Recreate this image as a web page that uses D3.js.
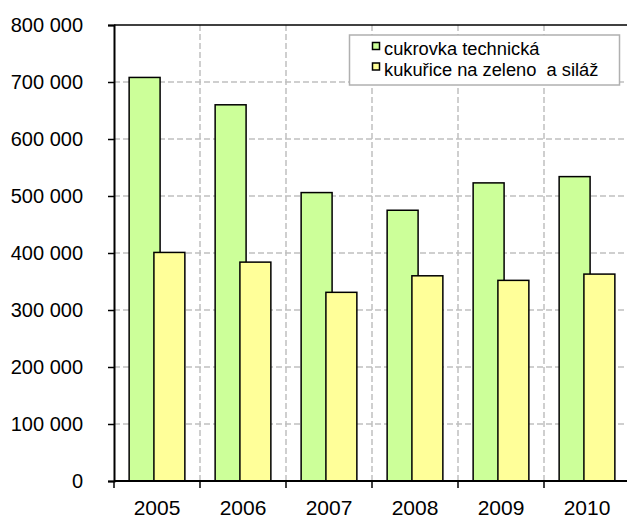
<!DOCTYPE html>
<html>
<head>
<meta charset="utf-8">
<script src="https://cdn.jsdelivr.net/npm/d3@7"></script>
<style>
  html, body { margin: 0; padding: 0; background: #fff; }
  svg { display: block; font-family: "Liberation Sans", Arial, sans-serif; }
</style>
</head>
<body>
<svg id="chart" width="627" height="518"></svg>
<script>
const years = ["2005", "2006", "2007", "2008", "2009", "2010"];
const cukrovka = [708000, 660000, 506000, 475000, 523000, 534000];
const kukurice = [401000, 384000, 331000, 360000, 352000, 363000];
const seriesNames = ["cukrovka technická", "kukuřice na zeleno  a siláž"];
const seriesColors = ["#CCFF99", "#FFFF99"];
const yTicks = [0, 100000, 200000, 300000, 400000, 500000, 600000, 700000, 800000];

(function () {
const svg = d3.select("#chart");
const pLeft = 114, pTop = 25, pBottom = 481;
const bandW = 86;
const pRight = pLeft + bandW * years.length;

const x = d3.scaleBand().domain(years).range([pLeft, pRight]).padding(0);
const y = d3.scaleLinear().domain([0, 800000]).range([pBottom, pTop]);

const fmt = v => d3.format(",")(v).replace(/,/g, " ");

// gridlines
const grid = svg.append("g");
grid.selectAll("line.h").data(yTicks.slice(1, -1)).join("line")
  .attr("x1", pLeft).attr("x2", 627)
  .attr("y1", d => y(d)).attr("y2", d => y(d))
  .attr("stroke", "#c0c0c0").attr("stroke-width", 1.5).attr("stroke-dasharray", "6,3");
grid.selectAll("line.v").data(years.slice(1)).join("line")
  .attr("x1", d => x(d)).attr("x2", d => x(d))
  .attr("y1", pTop).attr("y2", pBottom)
  .attr("stroke", "#c0c0c0").attr("stroke-width", 1.5).attr("stroke-dasharray", "6,3");

// bars
const bw = x.bandwidth() * 0.36;
const ov = bw * 0.2;
const groupW = 2 * bw - ov;
const offsets = [(x.bandwidth() - groupW) / 2, (x.bandwidth() - groupW) / 2 + bw - ov];
[cukrovka, kukurice].forEach((vals, si) => {
  svg.append("g").selectAll("rect").data(vals).join("rect")
    .attr("x", (d, i) => x(years[i]) + offsets[si])
    .attr("width", bw)
    .attr("y", d => y(d))
    .attr("height", d => y(0) - y(d))
    .attr("fill", seriesColors[si])
    .attr("stroke", "#000").attr("stroke-width", 1.5);
});

// top border
svg.append("line").attr("x1", pLeft).attr("x2", 627).attr("y1", pTop).attr("y2", pTop)
  .attr("stroke", "#000").attr("stroke-width", 1.5);

// y axis
const yAxis = d3.axisLeft(y).tickValues(yTicks).tickFormat(fmt).tickSize(6).tickPadding(25);
const gy = svg.append("g").attr("transform", `translate(${pLeft},0)`).call(yAxis);
gy.select(".domain").attr("stroke", "#000").attr("stroke-width", 2);
gy.selectAll(".tick line").attr("stroke", "#000").attr("stroke-width", 1.5);
gy.selectAll(".tick text").attr("font-size", 20).attr("fill", "#000")
  .attr("font-family", "Liberation Sans, Arial, sans-serif");

// x axis
const xAxis = d3.axisBottom(x).tickSize(0).tickPadding(19);
const gx = svg.append("g").attr("transform", `translate(0,${pBottom})`).call(xAxis);
gx.select(".domain").attr("d", `M${pLeft},0H627`).attr("stroke", "#000").attr("stroke-width", 2);
gx.selectAll(".tick text").attr("font-size", 21).attr("fill", "#000")
  .attr("font-family", "Liberation Sans, Arial, sans-serif");
gx.append("g").selectAll("line").data(years).join("line")
  .attr("x1", d => x(d)).attr("x2", d => x(d))
  .attr("y1", 0).attr("y2", 7)
  .attr("stroke", "#000").attr("stroke-width", 1.5);

// legend
const lg = svg.append("g");
lg.append("rect").attr("x", 349.5).attr("y", 35).attr("width", 270).attr("height", 50)
  .attr("fill", "#fff").attr("stroke", "#b0b0b0").attr("stroke-width", 1.5);
seriesNames.forEach((name, i) => {
  const by = 55 + i * 20.5;
  lg.append("rect").attr("x", 372.5).attr("y", by - 12.5).attr("width", 7).attr("height", 7)
    .attr("fill", seriesColors[i]).attr("stroke", "#000").attr("stroke-width", 1.5);
  lg.append("text").attr("x", 384).attr("y", by)
    .attr("font-size", 18.3).attr("fill", "#000")
    .style("white-space", "pre")
    .text(name);
});
})();
</script>
</body>
</html>
